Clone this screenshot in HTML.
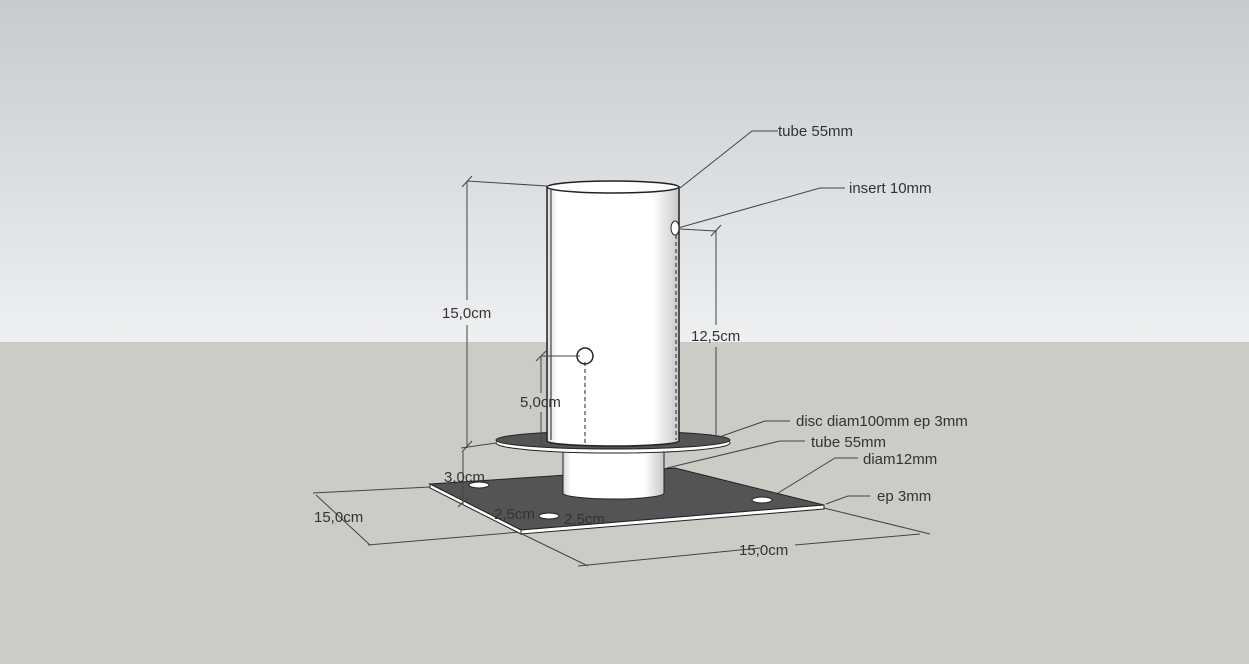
<!DOCTYPE html>
<html><head><meta charset="utf-8"><style>
html,body{margin:0;padding:0;width:1249px;height:664px;overflow:hidden}
svg{display:block}
text{font-family:"Liberation Sans",sans-serif;font-size:15px;fill:#333}
</style></head><body>
<svg width="1249" height="664" viewBox="0 0 1249 664">
<defs>
<linearGradient id="sky" x1="0" y1="0" x2="0" y2="1">
<stop offset="0" stop-color="#c7cbce"/><stop offset="1" stop-color="#eef0f2"/></linearGradient>
<linearGradient id="tube" x1="0" y1="0" x2="1" y2="0">
<stop offset="0" stop-color="#d8d8d8"/><stop offset="0.08" stop-color="#ffffff"/><stop offset="0.8" stop-color="#ffffff"/><stop offset="1" stop-color="#c8c8c8"/></linearGradient>
</defs>
<rect x="0" y="0" width="1249" height="342" fill="url(#sky)"/>
<rect x="0" y="342" width="1249" height="322" fill="#cccbc5"/>
<g stroke="#444" stroke-width="1" fill="none">
<line x1="313" y1="493" x2="430" y2="487"/>
<line x1="368" y1="545" x2="520" y2="532"/>
<line x1="316" y1="495" x2="370" y2="545"/>
<line x1="520" y1="533" x2="588" y2="566"/>
<line x1="578" y1="566" x2="760" y2="548"/>
<line x1="795" y1="545" x2="920" y2="534"/>
<line x1="824" y1="508" x2="930" y2="534"/>
<polyline points="778,131 752,131 680,188"/>
<polyline points="845,188 820,188 678,228"/>
<polyline points="790,421 765,421 722,436"/>
<polyline points="805,441 780,441 667,468"/>
<polyline points="858,458 835,458 770,498"/>
<polyline points="870,496 848,496 826,504"/>
</g>
<polygon points="430,484 675,468 824,505 521,530" fill="#545454" stroke="#222"/>
<polygon points="430,484 521,530 521,534 430,488" fill="#fff" stroke="#222"/>
<polygon points="521,530 824,505 824,509 521,534" fill="#fff" stroke="#222"/>
<g fill="#fff" stroke="#222"><ellipse cx="479" cy="485" rx="10" ry="3"/><ellipse cx="549" cy="516" rx="10" ry="3"/><ellipse cx="762" cy="500" rx="10" ry="3"/></g>
<path d="M563,450 L563,493 A50,6 0 0 0 664,493 L664,450 Z" fill="url(#tube)" stroke="#222"/>
<ellipse cx="613" cy="443" rx="117" ry="10" fill="#fff" stroke="#222"/>
<ellipse cx="613" cy="440" rx="117" ry="9" fill="#545454" stroke="#222"/>
<path d="M547,187 L547,441 A66,5 0 0 0 679,441 L679,187 Z" fill="url(#tube)" stroke="#222" stroke-width="1.5"/>
<ellipse cx="613" cy="187" rx="66" ry="6" fill="#fff" stroke="#222" stroke-width="1.5"/>
<line x1="551" y1="190" x2="551" y2="440" stroke="#222"/>
<circle cx="585" cy="356" r="8" fill="none" stroke="#222" stroke-width="1.5"/>
<ellipse cx="675" cy="228" rx="4" ry="7" fill="#fff" stroke="#222"/>
<g stroke="#222" stroke-dasharray="4,3"><line x1="585" y1="362" x2="585" y2="443"/><line x1="676" y1="235" x2="676" y2="440"/></g>
<g stroke="#444" fill="none">
<line x1="467" y1="181" x2="467" y2="300"/><line x1="467" y1="325" x2="467" y2="448"/>
<line x1="467" y1="181" x2="547" y2="186"/>
<line x1="462" y1="187" x2="472" y2="176"/>
<line x1="716" y1="230" x2="716" y2="325"/><line x1="716" y1="347" x2="716" y2="436"/>
<line x1="680" y1="229" x2="716" y2="231"/><line x1="711" y1="236" x2="721" y2="225"/>
<line x1="541" y1="356" x2="541" y2="393"/><line x1="541" y1="412" x2="541" y2="444"/>
<line x1="541" y1="356" x2="580" y2="356"/><line x1="536" y1="361" x2="546" y2="351"/>
<line x1="461" y1="448" x2="496" y2="443"/><line x1="462" y1="452" x2="472" y2="441"/>
<line x1="463" y1="452" x2="463" y2="505"/><line x1="458" y1="507" x2="468" y2="497"/>
</g>
<text x="442" y="318">15,0cm</text>
<text x="691" y="341">12,5cm</text>
<text x="520" y="407">5,0cm</text>
<text x="444" y="482">3,0cm</text>
<text x="314" y="522">15,0cm</text>
<text x="494" y="519">2,5cm</text>
<text x="564" y="524">2,5cm</text>
<text x="739" y="555">15,0cm</text>
<text x="778" y="136">tube 55mm</text>
<text x="849" y="193">insert 10mm</text>
<text x="796" y="426">disc diam100mm ep 3mm</text>
<text x="811" y="447">tube 55mm</text>
<text x="863" y="464">diam12mm</text>
<text x="877" y="501">ep 3mm</text>
</svg>
</body></html>
